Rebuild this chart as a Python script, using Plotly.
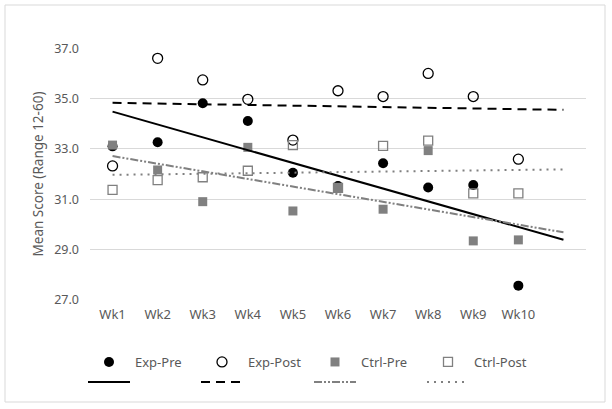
import numpy as np
import plotly.graph_objects as go

weeks = ["Wk1", "Wk2", "Wk3", "Wk4", "Wk5", "Wk6", "Wk7", "Wk8", "Wk9", "Wk10"]
exp_pre = [33.10, 33.26, 34.81, 34.11, 32.05, 31.52, 32.43, 31.46, 31.56, 27.56]
exp_post = [32.32, 36.60, 35.74, 34.97, 33.35, 35.31, 35.08, 36.00, 35.08, 32.59]
ctrl_pre = [33.15, 32.16, 30.90, 33.06, 30.53, 31.43, 30.60, 32.93, 29.34, 29.38]
ctrl_post = [31.37, 31.76, 31.87, 32.13, 33.15, 31.45, 33.12, 33.33, 31.23, 31.23]
forecast_periods = 1

GRAY = "#808080"
TXT = "#595959"
FONT = "Noto Sans"

x = np.arange(1, len(weeks) + 1)
x_trend = np.array([1, len(weeks) + forecast_periods])

fig = go.Figure()

series = [
    ("Exp-Pre", exp_pre, dict(symbol="circle", size=10, color="black"),
     dict(color="black", width=2, dash="solid")),
    ("Exp-Post", exp_post, dict(symbol="circle-open", size=10, color="black", line=dict(width=1.3)),
     dict(color="black", width=2, dash="9px,6px")),
    ("Ctrl-Pre", ctrl_pre, dict(symbol="square", size=9, color=GRAY),
     dict(color=GRAY, width=2, dash="8px,2px,2px,2px,2px,2px")),
    ("Ctrl-Post", ctrl_post, dict(symbol="square-open", size=9, color=GRAY, line=dict(width=1.3)),
     dict(color=GRAY, width=2, dash="2px,5px")),
]

for name, vals, mk, _ in series:
    fig.add_trace(go.Scatter(x=x, y=vals, mode="markers", name=name, marker=mk,
                             legend="legend", cliponaxis=False))

for name, vals, _, ln in series:
    slope, intercept = np.polyfit(x, vals, 1)
    fig.add_trace(go.Scatter(x=x_trend, y=slope * x_trend + intercept, mode="lines",
                             name=" ", line=ln, legend="legend2", hoverinfo="skip"))

L, R, T, B = 90, 26, 48, 109
W, H = 612, 409
pw = W - L - R
ph = H - T - B

def px2x(p):
    return (p - L) / pw

def py2y(p):
    return (H - B - p) / ph

legend_common = dict(orientation="h", xanchor="left", yanchor="middle",
                     itemwidth=42, entrywidth=56, entrywidthmode="pixels",
                     font=dict(size=13, color=TXT), bgcolor="rgba(0,0,0,0)",
                     itemclick=False, itemdoubleclick=False, traceorder="normal")

fig.update_layout(
    width=W, height=H,
    margin=dict(l=L, r=R, t=T, b=B),
    paper_bgcolor="white", plot_bgcolor="white",
    font=dict(family=FONT, size=13, color=TXT),
    xaxis=dict(range=[0.5, len(weeks) + forecast_periods + 0.5], tickvals=list(x), ticktext=weeks,
               showgrid=False, zeroline=False, showline=False, ticks="",
               tickfont=dict(size=13, color=TXT), ticklabelstandoff=5),
    yaxis=dict(range=[26.99, 37.01], tickvals=[27, 29, 31, 33, 35, 37], tickformat=".1f",
               showgrid=True, gridcolor="#d9d9d9", gridwidth=1, zeroline=False, showline=False,
               ticks="", tickfont=dict(size=12.5, color=TXT), ticklabelstandoff=10,
               title=dict(text="Mean Score (Range 12-60)", font=dict(size=13.5, color=TXT), standoff=7)),
    legend=dict(x=px2x(83), y=py2y(362), **legend_common),
    legend2=dict(x=px2x(83), y=py2y(382), **legend_common),
    shapes=[dict(type="rect", xref="paper", yref="paper",
                 x0=px2x(5), x1=px2x(605), y0=py2y(402), y1=py2y(5),
                 line=dict(color="#d9d9d9", width=1), fillcolor="rgba(0,0,0,0)", layer="below")],
    showlegend=True,
)

fig.write_html("out.html", config={"displayModeBar": False},
               post_script="document.body.style.margin='0';document.body.style.overflow='hidden';")
